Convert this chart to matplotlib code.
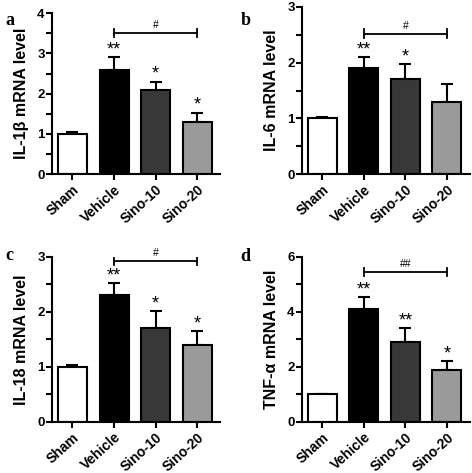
import matplotlib.pyplot as plt
from matplotlib.ticker import MultipleLocator

plt.rcParams['font.family'] = ['Liberation Sans', 'DejaVu Sans']

groups = ["Sham", "Vehicle", "Sino-10", "Sino-20"]
bar_colors = ["white", "black", "#383838", "#9a9a9a"]

il1b_mean = [1.0, 2.6, 2.1, 1.3]
il1b_err = [0.04, 0.3, 0.2, 0.23]
il1b_stars = ["", "**", "*", "*"]

il6_mean = [1.0, 1.9, 1.7, 1.3]
il6_err = [0.03, 0.2, 0.27, 0.32]
il6_stars = ["", "**", "*", ""]

il18_mean = [1.0, 2.3, 1.7, 1.4]
il18_err = [0.03, 0.23, 0.32, 0.25]
il18_stars = ["", "**", "*", "*"]

tnf_mean = [1.0, 4.1, 2.9, 1.9]
tnf_err = [0.03, 0.45, 0.52, 0.32]
tnf_stars = ["", "**", "**", "*"]

panels = [
    # letter, ylabel, means, errs, stars, ymax, major step, sig y, sig text
    ("a", "IL-1\u03b2 mRNA level", il1b_mean, il1b_err, il1b_stars, 4, 1, 3.52, "#"),
    ("b", "IL-6 mRNA level", il6_mean, il6_err, il6_stars, 3, 1, 2.52, "#"),
    ("c", "IL-18 mRNA level", il18_mean, il18_err, il18_stars, 3, 1, 2.92, "#"),
    ("d", "TNF-\u03b1 mRNA level", tnf_mean, tnf_err, tnf_stars, 6, 2, 5.45, "##"),
]

boxes = [
    [0.1095, 0.632, 0.357, 0.340],
    [0.639, 0.6315, 0.356, 0.354],
    [0.1095, 0.108, 0.357, 0.349],
    [0.639, 0.108, 0.356, 0.349],
]
letter_pos = [(0.012, 0.975), (0.51, 0.975), (0.012, 0.478), (0.51, 0.475)]

fig = plt.figure(figsize=(4.72, 4.73), dpi=100)

for (letter, ylab, means, errs, stars, ymax, step, sig_y, sig_txt), box, lp in zip(panels, boxes, letter_pos):
    ax = fig.add_axes(box)
    x = list(range(len(groups)))
    ax.bar(x, means, width=0.7, color=bar_colors, edgecolor="black", linewidth=1.5, zorder=2)
    ax.errorbar(x, means, yerr=[[0] * len(errs), errs], fmt="none", ecolor="black",
                elinewidth=1.5, capsize=4.5, capthick=1.5, zorder=1)
    for xi, m, e, s in zip(x, means, errs, stars):
        if s:
            ax.annotate(s, (xi, m + e), xytext=(0, -1), textcoords="offset points",
                        ha="center", va="bottom", fontsize=13)
    # significance bracket Vehicle vs Sino-20
    cap = ymax * 0.025
    ax.plot([1, 3], [sig_y, sig_y], color="black", lw=1.3)
    ax.plot([1, 1], [sig_y - cap, sig_y + cap], color="black", lw=1.3)
    ax.plot([3, 3], [sig_y - cap, sig_y + cap], color="black", lw=1.3)
    ax.annotate(sig_txt, (2, sig_y), xytext=(0, 2), textcoords="offset points",
                ha="center", va="bottom", fontsize=7.5)

    ax.set_xlim(-0.5, 3.55)
    ax.set_ylim(0, ymax)
    ax.yaxis.set_major_locator(MultipleLocator(step))
    ax.yaxis.set_minor_locator(MultipleLocator(step / 2))
    ax.set_xticks(x)
    ax.set_xticklabels(groups, rotation=42, ha="right", rotation_mode="anchor",
                       fontsize=10, fontweight="bold")
    for lab in ax.get_yticklabels():
        lab.set_fontweight("bold")
        lab.set_fontsize(9.5)
    ax.tick_params(axis="both", which="both", direction="out", width=1.5, length=4)
    ax.tick_params(axis="y", which="major", pad=1)
    ax.tick_params(axis="x", pad=2)
    for side in ["top", "right"]:
        ax.spines[side].set_visible(False)
    for side in ["left", "bottom"]:
        ax.spines[side].set_linewidth(1.5)
    ax.set_ylabel(ylab, fontsize=11.5, fontweight="bold", labelpad=6)

    fig.text(lp[0], lp[1], letter, fontsize=13, fontweight="bold",
             family="Liberation Serif", va="top")

fig.savefig("out.png", dpi=100)
